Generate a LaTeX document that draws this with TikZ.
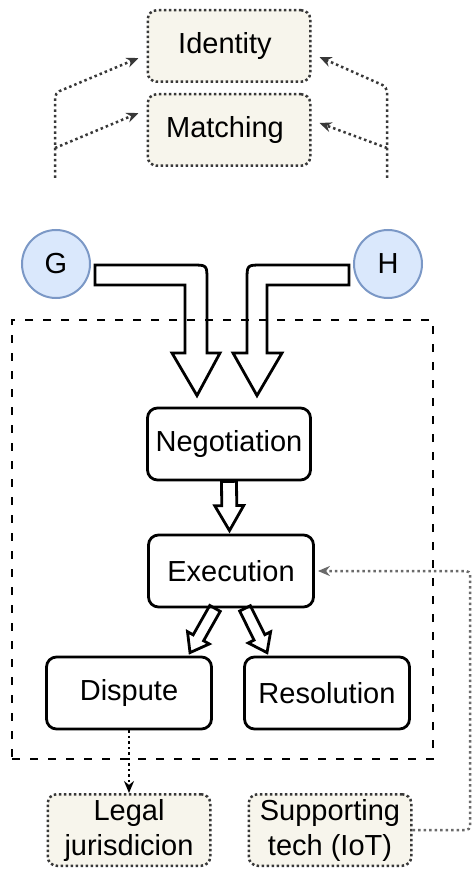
\documentclass[tikz,border=0pt]{standalone}
\usepackage{fontspec}
\setmainfont{Liberation Sans}
\usepackage{tikz}
\usetikzlibrary{arrows.meta}
\usetikzlibrary{positioning,calc}
\definecolor{paper}{HTML}{F7F5EC}
\definecolor{agentfill}{HTML}{DAE8FC}
\definecolor{agentline}{HTML}{7B98C6}
\definecolor{dotgrey}{HTML}{383838}
\definecolor{railgrey}{HTML}{6A6A6A}
\tikzset{
    state/.style={
           rectangle,
           rounded corners=10pt,
           draw=black, line width=2.8pt,
           minimum width=165pt,
           minimum height=72pt,
           inner sep=2pt,
           text centered,
           font=\fontsize{29}{34}\selectfont,
           },
    state2/.style={
           rectangle,
           rounded corners=9pt,
           draw=dotgrey, fill=paper,
           line width=2.5pt, dash pattern=on 2.5pt off 2.5pt,
           minimum width=162.5pt,
           minimum height=71.5pt,
           inner sep=2pt,
           align=center,
           font=\fontsize{29}{35}\selectfont,
           },
    agent/.style={
           circle,
           draw=agentline, fill=agentfill, line width=2pt,
           minimum size=68pt,
           inner sep=0pt,
           font=\fontsize{29}{34}\selectfont,
           },
    frame/.style={
           rectangle,
           draw=black, line width=2.3pt,
           dash pattern=on 8pt off 10pt,
           inner sep=0pt,
           },
    fatarrow/.style={
           draw=black, line width=2.8pt,
           line join=miter,
           },
    hint/.style={
           draw=dotgrey, line width=2.5pt,
           dash pattern=on 2.5pt off 3pt,
           -{Stealth[length=12pt,width=10pt]},
           },
}
% hollow block arrow: from, to, shaft half width, head half width, head length
\newcommand{\fatarrow}[5]{%
 \coordinate (HEADBASE) at ($(#2)!#5!(#1)$);
 \draw[fatarrow] ($(#1)!#3!90:(#2)$) -- ($(HEADBASE)!#3!90:(#2)$)
  -- ($(HEADBASE)!#4!90:(#2)$) -- (#2) -- ($(HEADBASE)!#4!-90:(#2)$)
  -- ($(HEADBASE)!#3!-90:(#2)$) -- ($(#1)!#3!-90:(#2)$) -- cycle;
}

\begin{document}
\begin{tikzpicture}
[
x=1pt,y=-1pt
]
 \useasboundingbox (0,0) rectangle (473,869);

 % Top: the two support services
 \node[state2] (IDENT) at (229,46)
 {%
Identity
 };

 \node[state2,
 below of=IDENT,
 node distance=84pt] (MATCH)
 {%
Matching
 };

 % dotted feeds into identity / matching
 \coordinate (LFOOT) at (55,178);
 \coordinate (LKNEE) at (55,93);
 \coordinate (LMID) at (55,148);
 \coordinate (RFOOT) at (387,178);
 \coordinate (RKNEE) at (387,87);
 \coordinate (RMID) at (387,148);

 \draw[hint, rounded corners=5pt] (LFOOT) -- (LKNEE) -- ([xshift=-8pt,yshift=-12pt]IDENT.west);
 \draw[hint] (LMID) -- ([xshift=-8pt,yshift=17pt]MATCH.west);
 \draw[hint, rounded corners=5pt] (RFOOT) -- (RKNEE) -- ([xshift=8pt,yshift=-11pt]IDENT.east);
 \draw[hint] (RMID) -- ([xshift=8pt,yshift=7pt]MATCH.east);

 % The two parties
 \node[agent] (G) at (56,264) {G};

 \node[agent,
 right of=G,
 node distance=332pt] (H) {H};

 % Next node: negotiation
 \node[state,
 minimum width=163pt] (NEG) at (229,444)
 {%
Negotiation
 };

 \node[state,
 below of=NEG,
 xshift=2pt,
 node distance=127pt] (EXEC)
 {%
Execution
 };

 \node[state] (DISP) at (129,693)
 {%
Dispute
 };

 \node[state,
 right of=DISP,
 node distance=198pt] (RES)
 {%
Resolution
 };

 % dashed contract frame
 \node[frame,
 minimum width=421pt,
 minimum height=439pt] (FRAME) at (222.5,539.5) {};

 % Bottom: outside help
 \node[state2,
 below of=DISP,
 node distance=137pt] (LEGAL)
 {%
Legal\\jurisdicion
 };

 \node[state2,
 right of=LEGAL,
 node distance=201pt] (SUPP)
 {%
Supporting\\tech (IoT)
 };

 % big bent arrows from the parties
 \draw[fatarrow] ([xshift=4pt,yshift=-1pt]G.east) -- (192,265)
  .. controls (207,265) .. (207,280) -- (207,353) -- (220,353)
  -- ([xshift=-32pt,yshift=11pt]NEG.north) -- (172,353) -- (185,353)
  -- (185,285) -- ([xshift=4pt,yshift=-21pt]G.east) -- cycle;

 \draw[fatarrow] ([xshift=-4pt,yshift=-1pt]H.west) -- (262,265)
  .. controls (247,265) .. (247,280) -- (247,353) -- (233,353)
  -- ([xshift=28pt,yshift=11pt]NEG.north) -- (282,353) -- (267,353)
  -- (267,285) -- ([xshift=-4pt,yshift=-21pt]H.west) -- cycle;

 % small block arrows inside the frame
 \fatarrow{NEG.south}{[xshift=-1.5pt,yshift=3pt]EXEC.north}{7.5pt}{14.5pt}{25pt}
 \fatarrow{[xshift=-16pt]EXEC.south}{[xshift=61pt,yshift=3pt]DISP.north}{6pt}{12.5pt}{17pt}
 \fatarrow{[xshift=14pt]EXEC.south}{[xshift=-60pt,yshift=3pt]RES.north}{6pt}{12.5pt}{17pt}

 % dotted links to the outside
 \coordinate (RAIL) at (470,571);

 \draw[hint, draw=black, line width=2.8pt] (DISP.south) -- (LEGAL.north);
 \draw[hint, draw=railgrey, rounded corners=4pt] (SUPP.east) -| (RAIL) -- ([xshift=3pt]EXEC.east);

\end{tikzpicture}
\end{document}
